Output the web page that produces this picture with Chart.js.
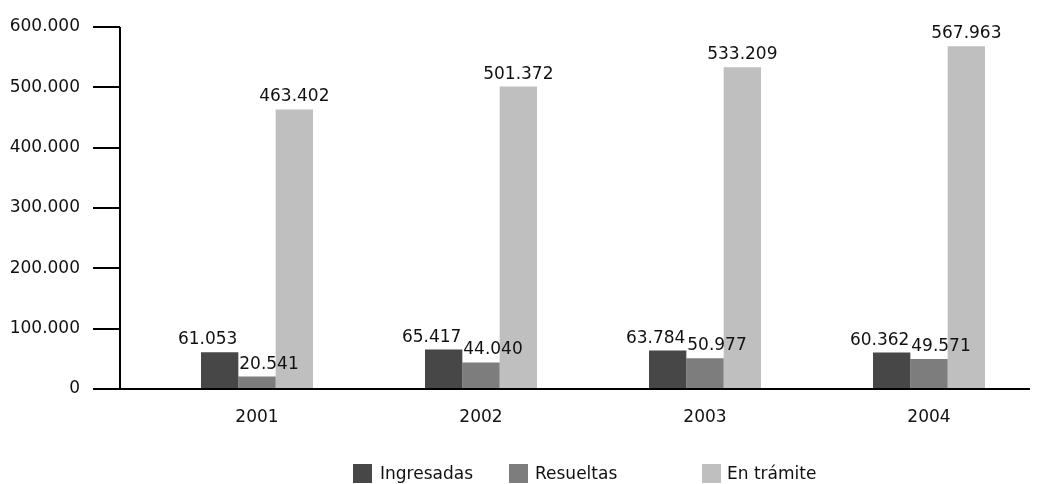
<!DOCTYPE html>
<html>
<head>
<meta charset="utf-8">
<script src="https://cdn.jsdelivr.net/npm/chart.js@4/dist/chart.umd.min.js"></script>
<style>
  html, body { margin: 0; padding: 0; background: #fff; }
  #wrap { position: relative; width: 1055px; height: 484px; }
  .key { position: absolute; top: 464px; width: 19px; height: 19px; }
  .txt { position: absolute; top: 462px; font: 17px "DejaVu Sans", sans-serif; color: #111; line-height: 22px; }
</style>
</head>
<body>
<div id="wrap">
  <canvas id="chart" width="1055" height="484"></canvas>
  <div class="key" style="left:353px;background:#474747"></div>
  <div class="txt" style="left:380px">Ingresadas</div>
  <div class="key" style="left:509px;background:#7d7d7d"></div>
  <div class="txt" style="left:535px">Resueltas</div>
  <div class="key" style="left:702px;background:#bfbfbf"></div>
  <div class="txt" style="left:727px">En trámite</div>
</div>
<script>
// values
const years = ["2001", "2002", "2003", "2004"];
const ingresadas = [61053, 65417, 63784, 60362];
const resueltas = [20541, 44040, 50977, 49571];
const enTramite = [463402, 501372, 533209, 567963];
const yTicks = [0, 100000, 200000, 300000, 400000, 500000, 600000];

const FONT = '"DejaVu Sans", sans-serif';

function fmt(v) {
    // thousands separator is a dot
    return String(v).replace(/\B(?=(\d{3})+(?!\d))/g, ".");
}

// axis lines sit left of the plot area, so draw them here
const axisLines = {
    id: "axisLines",
    afterDraw(chart) {
        const ctx = chart.ctx;
        const y = chart.scales.y;
        const x0 = 120, tickStart = 93;
        ctx.save();
        ctx.strokeStyle = "#000";
        ctx.lineWidth = 2;
        ctx.beginPath();
        ctx.moveTo(x0, y.getPixelForValue(600000));
        ctx.lineTo(x0, y.getPixelForValue(0));
        for (const t of yTicks) {
            const py = Math.round(y.getPixelForValue(t));
            ctx.moveTo(tickStart, py);
            ctx.lineTo(x0, py);
        }
        const base = Math.round(y.getPixelForValue(0));
        ctx.moveTo(tickStart, base);
        ctx.lineTo(1030, base);
        ctx.stroke();
        ctx.restore();
    }
};

// value labels above bars, first two nudged apart like the original
const valueLabels = {
    id: "valueLabels",
    afterDatasetsDraw(chart) {
        const ctx = chart.ctx;
        const shift = [-12, 12, 0];
        ctx.save();
        ctx.font = "17px " + FONT;
        ctx.fillStyle = "#111";
        ctx.textAlign = "center";
        ctx.textBaseline = "alphabetic";
        chart.data.datasets.forEach((ds, i) => {
            chart.getDatasetMeta(i).data.forEach((bar, j) => {
                ctx.fillText(fmt(ds.data[j]), bar.x + shift[i], bar.y - 8);
            });
        });
        ctx.restore();
    }
};

new Chart(document.getElementById("chart"), {
    type: "bar",
    data: {
        labels: years,
        datasets: [
            { label: "Ingresadas", data: ingresadas, backgroundColor: "#474747" },
            { label: "Resueltas", data: resueltas, backgroundColor: "#7d7d7d" },
            { label: "En trámite", data: enTramite, backgroundColor: "#bfbfbf" },
        ],
    },
    options: {
        responsive: false,
        animation: false,
        layout: { padding: { top: 27, right: 14, left: 0, bottom: 0 } },
        datasets: { bar: { categoryPercentage: 0.5, barPercentage: 1.0 } },
        plugins: {
            legend: { display: false },
            tooltip: { enabled: false },
        },
        scales: {
            x: {
                grid: { display: false },
                border: { display: false },
                ticks: { color: "#111", font: { family: FONT, size: 17 }, padding: 10 },
                afterFit(scale) { scale.height = 95; },
            },
            y: {
                min: 0,
                max: 600000,
                grid: { display: false },
                border: { display: false },
                afterBuildTicks(scale) { scale.ticks = yTicks.map(v => ({ value: v })); },
                ticks: {
                    color: "#111",
                    font: { family: FONT, size: 17 },
                    padding: 57,
                    callback: v => fmt(v),
                },
                afterFit(scale) {
                    scale.width = 145;
                    scale.paddingTop = 0;
                    scale.paddingBottom = 0;
                },
            },
        },
    },
    plugins: [axisLines, valueLabels],
});
</script>
</body>
</html>
